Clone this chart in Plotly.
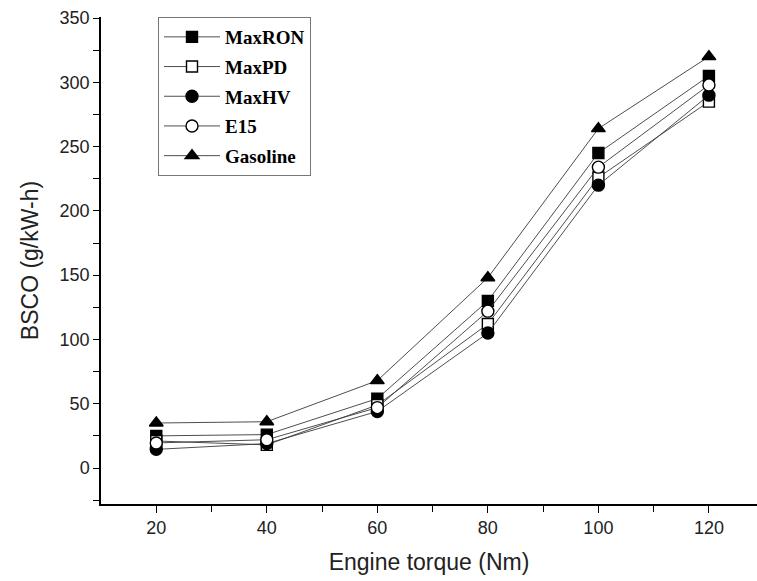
import plotly.graph_objects as go

# Engine torque levels (Nm)
torque = [20, 40, 60, 80, 100, 120]

# Brake-specific CO emissions (g/kW-h) per fuel
max_ron = [25, 26, 54, 130, 245, 305]
max_pd = [21, 18, 49, 112, 226, 285]
max_hv = [14.5, 19, 44, 105, 220, 290]
e15 = [19.5, 22, 47, 122, 234, 298]
gasoline = [35, 36, 68, 148, 264, 320]

series = [
    ("MaxRON", max_ron, "square", "black"),
    ("MaxPD", max_pd, "square", "white"),
    ("MaxHV", max_hv, "circle", "black"),
    ("E15", e15, "circle", "white"),
    ("Gasoline", gasoline, "triangle-up", "black"),
]

fig = go.Figure()
for i, (name, vals, sym, fill) in enumerate(series):
    size = 12 if sym == "triangle-up" else (11 if sym == "square" else 12)
    fig.add_trace(go.Scatter(
        x=torque, y=vals, name=name, mode="lines+markers",
        legendgroup=f"g{i}",
        line=dict(color="#3a3a3a", width=0.9),
        marker=dict(symbol=sym, size=size, color=fill,
                    line=dict(color="black", width=1.4)),
    ))

sans = "Liberation Sans, Arial, sans-serif"
tick_font = dict(family=sans, size=18, color="#222")
title_font = dict(family=sans, size=23, color="#222")

fig.update_layout(
    width=757, height=581,
    margin=dict(l=101, r=0, t=17, b=77),
    paper_bgcolor="white", plot_bgcolor="white",
    showlegend=True,
    legend=dict(
        x=(158 - 101) / 656, y=1.0, xanchor="left", yanchor="top",
        bgcolor="white", bordercolor="#777", borderwidth=1,
        font=dict(family="Liberation Serif, Times New Roman, serif", size=19,
                  color="black", weight="bold"),
        itemwidth=56, tracegroupgap=2, traceorder="grouped",
    ),
    xaxis=dict(
        range=[10, 128.7], tickvals=torque, ticks="outside", ticklen=7,
        tickwidth=1.2, tickcolor="black",
        showline=True, linecolor="black", linewidth=1.5, showgrid=False,
        zeroline=False, tickfont=tick_font,
        minor=dict(tickvals=[30, 50, 70, 90, 110], ticks="outside", ticklen=6,
                   tickwidth=1.2, tickcolor="black"),
        title=dict(text="Engine torque (Nm)", font=title_font, standoff=17),
    ),
    yaxis=dict(
        range=[-28, 350.8], tickvals=[0, 50, 100, 150, 200, 250, 300, 350],
        ticks="outside", ticklen=6, tickwidth=1.2, tickcolor="black",
        showline=True, linecolor="black", linewidth=1.5, showgrid=False,
        zeroline=False, tickfont=tick_font,
        minor=dict(tickvals=[-25, 25, 75, 125, 175, 225, 275, 325], ticks="outside",
                   ticklen=6, tickwidth=1.2, tickcolor="black"),
        title=dict(text="BSCO (g/kW-h)", font=title_font, standoff=15),
    ),
)

fig.write_html("out.html")
